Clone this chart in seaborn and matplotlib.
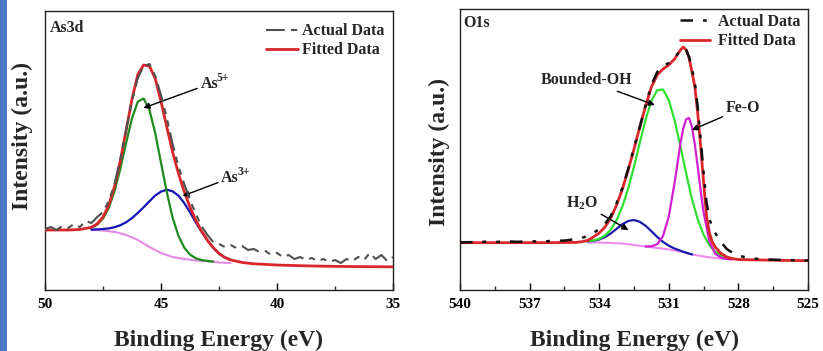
import matplotlib
matplotlib.use("Agg")
import matplotlib.pyplot as plt
from matplotlib.patches import Rectangle
from matplotlib.text import Text
import seaborn as sns

# ---------------- data: As3d panel ----------------
E_as_data = [50, 49.75, 49.5, 49.25, 49, 48.75, 48.5, 48.25, 48, 47.75, 47.5, 47.25, 47,
             46.75, 46.5, 46.25, 46, 45.75, 45.5, 45.25, 45, 44.75, 44.5, 44.25, 44, 43.75,
             43.5, 43.25, 43, 42.75, 42.5, 42.25, 42, 41.75, 41.5, 41.25, 41, 40.75, 40.5,
             40.25, 40, 39.75, 39.5, 39.25, 39, 38.75, 38.5, 38.25, 38, 37.75, 37.5, 37.25,
             37, 36.75, 36.5, 36.25, 36, 35.75, 35.5, 35.25, 35]
I_as_data = [61, 63, 60, 64, 62, 66, 63, 69, 67, 73, 78, 89, 106,
             131, 160, 189, 212, 224, 226, 214, 195, 172, 146, 124, 106, 90,
             76, 64, 55, 48, 46, 43, 45, 42, 44, 40, 41, 38, 39,
             35, 37, 33, 35, 31, 33, 30, 32, 29, 31, 28, 30, 27,
             31, 29, 33, 30, 37, 31, 35, 29, 33]

E_as_fit = [50, 49.5, 49, 48.5, 48, 47.75, 47.5, 47.25, 47, 46.75, 46.5, 46.25, 46, 45.75,
            45.5, 45.25, 45, 44.75, 44.5, 44.25, 44, 43.75, 43.5, 43.25, 43, 42.75, 42.5,
            42.25, 42, 41.5, 41, 40, 39, 38, 37, 36, 35]
I_as_fit = [60, 60, 60, 60.5, 62.7, 66.2, 73, 85, 103.8, 129.6, 160.3, 190.9, 215.4, 225,
            224, 211.5, 188.6, 163, 138, 116.7, 98.4, 82.9, 69.8, 58.8, 49.8, 42.4, 36.4,
            32.6, 30.1, 27.5, 26.2, 25, 24.3, 23.8, 23.5, 23.3, 23.2]

E_as_comp = [48, 47.75, 47.5, 47.25, 47, 46.75, 46.5, 46.25, 46, 45.75, 45.5, 45.25, 45,
             44.75, 44.5, 44.25, 44, 43.75, 43.5, 43.25, 43, 42.75, 42.5, 42.25, 42]
I_as5 = [62.4, 65.4, 71.5, 82.2, 99, 121.5, 147.4, 171.7, 188.3, 191.5, 180.2, 157, 127.2,
         97.7, 72.3, 54.3, 42.4, 35.4, 31.7, 29.9, 29.1, 28.4]
I_as3 = [60.4, 60.6, 61, 61.6, 62.8, 64.8, 67.8, 71.9, 77.1, 82.7, 88.7, 94.5, 98.4,
         100.3, 98.7, 94.4, 87, 77.7, 67.6, 58.1, 49.5, 42.3, 36.4, 32.6, 30.1]
I_as_bg = [60, 59.8, 59.5, 58.8, 58, 56.7, 55, 52.7, 50, 46.5, 43, 40, 37,
           35, 33, 32, 31, 30.2, 29.5, 29.1, 28.8, 28.3, 27.5, 27.2, 27]

# ---------------- data: O1s panel ----------------
E_o_data = [540, 539.5, 539, 538.5, 538, 537.5, 537, 536.5, 536, 535.5, 535, 534.75, 534.5,
            534.25, 534, 533.75, 533.5, 533.25, 533, 532.75, 532.5, 532.25, 532, 531.75,
            531.5, 531.25, 531, 530.75, 530.5, 530.375, 530.25, 530.125, 530, 529.875,
            529.75, 529.625, 529.5, 529.375, 529.25, 529.125, 529, 528.75, 528.5, 528.25,
            528, 527.75, 527.5, 527.25, 527, 526.5, 526, 525.5, 525]
I_o_data = [47.5, 47.9, 48.3, 48, 48.6, 48.2, 48.8, 48.4, 49.2, 49.4, 51, 52, 54,
            57, 61, 66, 74, 87, 102, 121, 142, 163, 185, 205,
            218, 224, 227, 232, 240, 242, 240, 233, 221, 207,
            182, 150, 117, 88, 71, 63, 57, 48, 41, 37,
            34.5, 33, 32, 31.3, 30.8, 30.3, 29.9, 29.7, 29.5]

E_o_fit = [540, 539, 538, 537, 536, 535, 534.75, 534.5, 534.25, 534, 533.75, 533.5, 533.25,
           533, 532.75, 532.5, 532.25, 532, 531.75, 531.5, 531.25, 531, 530.75, 530.5,
           530.375, 530.25, 530.125, 530, 529.875, 529.75, 529.625, 529.5, 529.375, 529.25,
           529.125, 529, 528.75, 528.5, 528.25, 528, 527.5, 527, 526, 525]
I_o_fit = [47.3, 47.3, 47.3, 47.3, 47.4, 47.6, 48.3, 49.5, 53, 57, 63, 72, 85,
           101, 120, 141, 163, 184, 203, 215, 221, 225, 231, 240,
           243, 240, 232, 218, 203, 176, 143, 108, 74, 57,
           48, 43, 36.5, 33, 31.3, 30.5, 30.2, 30, 29.6, 29.3]

E_o_comp = [534.5, 534.25, 534, 533.75, 533.5, 533.25, 533, 532.75, 532.5, 532.25, 532,
            531.75, 531.5, 531.25, 531, 530.75, 530.5, 530.25, 530, 529.75, 529.5, 529.25,
            529, 528.75, 528.5, 528.25]
I_oh = [48.8, 49.5, 51.2, 54.5, 60.4, 69.8, 83.5, 101.5, 123.3, 147.2, 170.4,
        189.1, 199.8, 200.5, 189.9, 169.8, 144, 116.3, 90.9, 70.5, 55.2, 44.8,
        38.3, 34.5, 32.4, 31.3]
I_h2o = [48.6, 49.2, 50.5, 52.9, 56.6, 61.2, 65.8, 69, 70, 68.2, 64.2,
         58.8, 53, 48.1, 44.3, 41.4, 39.3, 37.3, 35.6]
I_o_bg = [47.5, 47.5, 47.4, 47.2, 47, 46.8, 46.5, 45.8, 45, 44.2, 43.5,
          42.8, 42, 41.3, 40.5, 39.5, 38.5, 37, 35.5, 34.5, 33.5, 32.7,
          32, 31.5, 31, 30.7]
E_feo = [532, 531.75, 531.5, 531.25, 531, 530.75, 530.5, 530.375, 530.25, 530.125, 530,
         529.875, 529.75, 529.625, 529.5, 529.25, 529, 528.75, 528.5, 528.25]
I_feo = [43.5, 43.7, 45.8, 53.9, 73.7, 107.3, 146.4, 161.7, 170.8, 171.9, 162.8,
         145.2, 122.6, 98.9, 77.6, 48.7, 36.2, 32.3, 31, 30.7]

xticks_as = [50, 45, 40, 35]
xticks_o = [540, 537, 534, 531, 528, 525]
legend_labels = ['Actual Data', 'Fitted Data']

# ---------------- style ----------------
sns.set_style("white")
plt.rcParams['font.family'] = ['Liberation Serif', 'DejaVu Serif']
plt.rcParams['font.weight'] = 'bold'
plt.rcParams['mathtext.fontset'] = 'custom'
plt.rcParams['mathtext.rm'] = 'Liberation Serif:bold'
plt.rcParams['mathtext.it'] = 'Liberation Serif:bold'
plt.rcParams['mathtext.bf'] = 'Liberation Serif:bold'
plt.rcParams['mathtext.default'] = 'rm'

W, H = 823, 351
fig = plt.figure(figsize=(W / 100, H / 100), dpi=100)
fig.add_artist(Rectangle((0, 0), 7 / W, 1, transform=fig.transFigure,
                         facecolor='#4a78c8', edgecolor='none'))

ax1 = fig.add_axes([45 / W, (H - 290) / H, 348 / W, 279 / H])
ax2 = fig.add_axes([460 / W, (H - 290) / H, 348 / W, 281 / H])

RED = '#d8262a'


def line(ax, x, y, color, lw=1.6, ls='-', z=2):
    sns.lineplot(x=x, y=y, ax=ax, color=color, lw=lw, estimator=None, sort=False,
                 zorder=z)
    ln = ax.lines[-1]
    ln.set_linestyle(ls)
    return ln


# As3d
n5 = len(I_as5)
line(ax1, E_as_comp, I_as_bg, '#e38be3', 1.5)
line(ax1, E_as_comp, I_as3, '#1414b4', 1.6)
line(ax1, E_as_comp[:n5], I_as5, '#1f8a1f', 1.6)
h_fit1 = line(ax1, E_as_fit, I_as_fit, RED, 2.0, z=3)
h_dat1 = line(ax1, E_as_data, I_as_data, '#505050', 1.5, (0, (9, 3, 3, 3, 3, 3)), z=4)

# O1s
nb = len(I_h2o)
line(ax2, E_o_comp, I_o_bg, '#f08cf0', 1.5)
line(ax2, E_o_comp[:nb], I_h2o, '#1a1aa8', 1.6)
line(ax2, E_o_comp, I_oh, '#2fe02f', 1.6)
line(ax2, E_feo, I_feo, '#d21fd2', 1.6)
h_fit2 = line(ax2, E_o_fit, I_o_fit, RED, 2.0, z=3)
h_dat2 = line(ax2, E_o_data, I_o_data, '#111111', 1.8, (0, (5, 4, 1.5, 4, 1.5, 4)), z=4)

ylabel_pos = {id(ax1): (-0.034, 0.552), id(ax2): (-0.029, 0.492)}
for ax, lim, ticks, ylim in [(ax1, (50, 35), xticks_as, 279), (ax2, (540, 525), xticks_o, 281)]:
    ax.set_xlim(*lim)
    ax.set_ylim(0, ylim)
    ax.set_xticks(ticks)
    ax.set_xticklabels([str(t) for t in ticks], fontsize=11, fontweight='bold')
    mids = [(a + b) / 2 for a, b in zip(ticks[:-1], ticks[1:])]
    ax.set_xticks(mids, minor=True)
    ax.set_yticks([])
    ax.tick_params(axis='x', which='major', direction='in', length=5, width=1, pad=6,
                   bottom=True, top=False, colors='black')
    ax.tick_params(axis='x', which='minor', direction='in', length=3, width=1, bottom=True)
    for s in ax.spines.values():
        s.set_color('#222222')
        s.set_linewidth(1.0)
    ax.set_xlabel('Binding Energy (eV)', fontsize=17, fontweight='bold', labelpad=13)
    ax.set_ylabel('Intensity (a.u.)', fontsize=17, fontweight='bold')
    ax.yaxis.set_label_coords(*ylabel_pos[id(ax)])

ax1.legend([h_dat1, h_fit1], legend_labels, loc='upper right',
           frameon=False, handlelength=2.0, handletextpad=0.25,
           borderaxespad=0.1, labelspacing=0.2, prop={'weight': 'bold', 'size': 11.5},
           bbox_to_anchor=(0.998, 0.985))
ax2.legend([h_dat2, h_fit2], legend_labels, loc='upper right',
           frameon=False, handlelength=1.9, handletextpad=0.5,
           borderaxespad=0.0, labelspacing=0.2, prop={'weight': 'bold', 'size': 11.5},
           bbox_to_anchor=(0.997, 1.005))

ax1.text(0.015, 0.94, 'As3d', transform=ax1.transAxes, fontsize=11.5,
         fontweight='bold', va='center', ha='left')
ax2.text(0.01, 0.95, 'O1s', transform=ax2.transAxes, fontsize=11.5,
         fontweight='bold', va='center', ha='left')

arrow = dict(arrowstyle='-|>', color='black', lw=1.0, mutation_scale=9, shrinkA=0, shrinkB=0)


def ion(ax, xy, xytext, base, sup):
    t = ax.annotate(base, xy=xy, xytext=xytext, fontsize=11.5, fontweight='bold',
                    va='center', ha='left', arrowprops=arrow)
    fig.canvas.draw()
    bb = Text.get_window_extent(t, renderer=fig.canvas.get_renderer())
    ax.text(bb.x1 - 1.5, bb.y1 - 2, sup, transform=None, fontsize=8.5,
            fontweight='bold', va='center', ha='left')


ion(ax1, (45.76, 182), (43.3, 206), 'As', '5+')
ion(ax1, (44.07, 94), (42.4, 112), 'As', '3+')
ax2.annotate('Bounded-OH', xy=(531.6, 185), xytext=(534.55, 210), fontsize=11.5,
             fontweight='bold', va='center', ha='center', arrowprops=arrow)
ax2.annotate('Fe-O', xy=(530.01, 160), xytext=(527.8, 182), fontsize=11.5,
             fontweight='bold', va='center', ha='center', arrowprops=arrow)
ax2.annotate('H$_2$O', xy=(532.74, 60), xytext=(534.75, 87), fontsize=11.5,
             fontweight='bold', va='center', ha='center', arrowprops=arrow)

fig.savefig('out.png', dpi=100)
